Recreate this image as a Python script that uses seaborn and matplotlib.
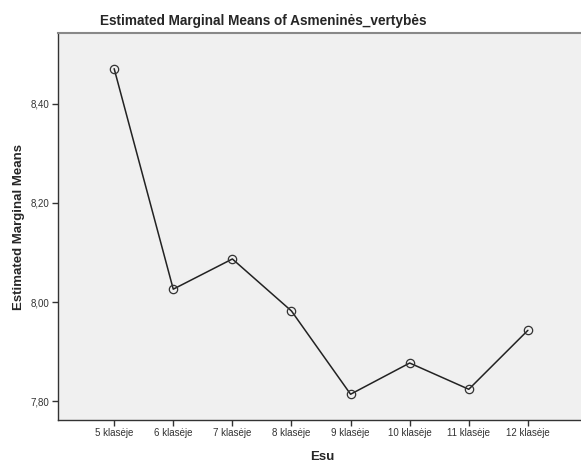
import matplotlib.pyplot as plt
import matplotlib.ticker as mticker
import numpy as np
import pandas as pd
import seaborn as sns

# Data
grades = ['5 klasėje', '6 klasėje', '7 klasėje', '8 klasėje',
          '9 klasėje', '10 klasėje', '11 klasėje', '12 klasėje']
means = [8.471, 8.026, 8.087, 7.982, 7.814, 7.877, 7.824, 7.943]
yticks = [7.80, 8.00, 8.20, 8.40]

df = pd.DataFrame({'pos': np.arange(len(grades)), 'Esu': grades, 'mean': means})

sns.set_style('white')
plt.rcParams['font.family'] = ['Liberation Sans', 'DejaVu Sans']

fig = plt.figure(figsize=(5.81, 4.67), dpi=100)
ax = fig.add_axes([58 / 581, 47 / 467, 529 / 581, 387 / 467])
ax.set_facecolor('#f0f0f0')

sns.lineplot(data=df, x='pos', y='mean', ax=ax, color='#222222', linewidth=1.1,
             marker='o', markersize=6, markerfacecolor='none',
             markeredgecolor='#333333', markeredgewidth=0.9)

ax.set_xlim(-0.95, 8.0)
ax.set_ylim(7.762, 8.543)
ax.set_xticks(df['pos'])
ax.set_xticklabels(grades)
ax.set_yticks(yticks)
ax.yaxis.set_major_formatter(mticker.FuncFormatter(lambda v, p: f'{v:.2f}'.replace('.', ',')))
ax.tick_params(axis='both', direction='out', length=4, width=1, color='#333333',
               labelsize=7, labelcolor='#333333', pad=2, left=True, bottom=True)

for side in ['left', 'bottom']:
    ax.spines[side].set_color('#333333')
    ax.spines[side].set_linewidth(1)
ax.spines['top'].set_color('#888888')
ax.spines['top'].set_linewidth(1.5)
ax.spines['right'].set_visible(False)

ax.set_title('Estimated Marginal Means of Asmeninės_vertybės', fontsize=9.8,
             fontweight='bold', pad=6, x=(263 - 58) / 529)
ax.set_xlabel('Esu', fontsize=9.5, fontweight='bold', labelpad=9)
ax.set_ylabel('Estimated Marginal Means', fontsize=9.5, fontweight='bold', labelpad=4)

fig.savefig('out.png', dpi=100)
